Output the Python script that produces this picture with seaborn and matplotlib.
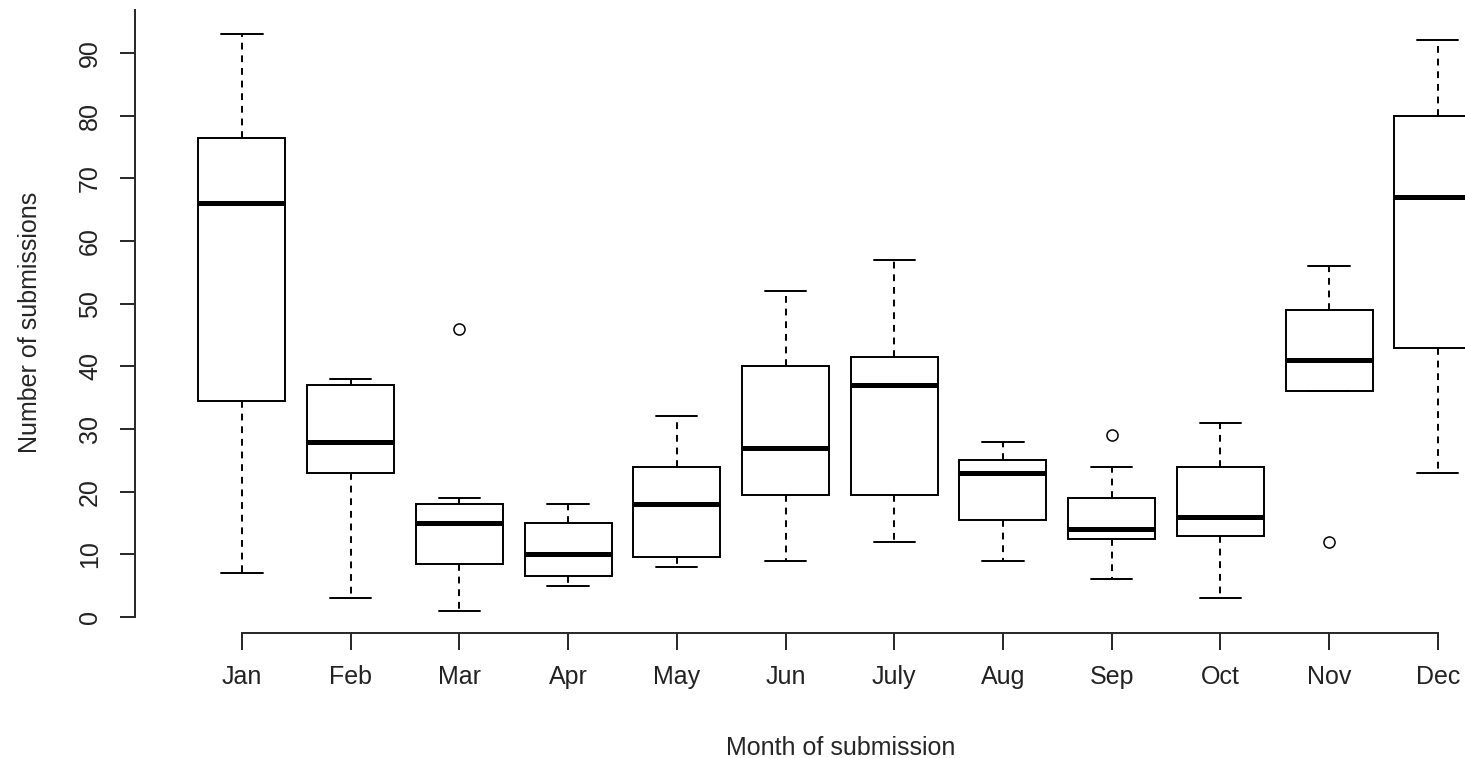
import pandas as pd
import seaborn as sns
import matplotlib.pyplot as plt

months = ["Jan", "Feb", "Mar", "Apr", "May", "Jun", "July", "Aug", "Sep", "Oct", "Nov", "Dec"]
jan = [7, 20, 34.5, 50, 66, 70, 76.5, 85, 93]
feb = [3, 15, 23, 25, 28, 33, 37, 37.5, 38]
mar = [1, 5, 8.5, 12, 15, 17, 18, 19, 46]
apr = [5, 6, 6.5, 8, 10, 12, 15, 17, 18]
may = [8, 9, 9.5, 14, 18, 21, 24, 28, 32]
jun = [9, 15, 19.5, 23, 27, 35, 40, 46, 52]
jul = [12, 16, 19.5, 30, 37, 40, 41.5, 50, 57]
aug = [9, 12, 15.5, 20, 23, 24, 25, 27, 28]
sep = [6, 10, 12.5, 13, 14, 17, 19, 24, 29]
octo = [3, 8, 13, 15, 16, 20, 24, 28, 31]
nov = [12, 36, 36, 38, 41, 45, 49, 52, 56]
dec = [23, 30, 43, 55, 67, 72, 80, 85, 92]
yticks = [0, 10, 20, 30, 40, 50, 60, 70, 80, 90]

counts = [jan, feb, mar, apr, may, jun, jul, aug, sep, octo, nov, dec]
df = pd.DataFrame({
    "month": [m for m, c in zip(months, counts) for _ in c],
    "n": [v for c in counts for v in c],
})

sns.set_style("ticks")
plt.rcParams["font.family"] = ["Liberation Sans", "DejaVu Sans"]
plt.rcParams["text.color"] = "#222222"

fig = plt.figure(figsize=(14.65, 7.58), dpi=100)
ax = fig.add_axes([135 / 1465, 125 / 758, 1330 / 1465, 633 / 758])

sns.boxplot(data=df, x="month", y="n", order=months, ax=ax,
            color="white", linecolor="black", linewidth=1.4, width=0.8,
            whis=1.5, capwidths=0.38,
            medianprops=dict(linewidth=3.6, color="black"),
            whiskerprops=dict(linestyle=(0, (3.5, 3))),
            flierprops=dict(marker="o", markersize=8, markerfacecolor="none",
                            markeredgecolor="black", markeredgewidth=1.1))

ax.set_xlim(-0.984, 11.25)
ax.set_ylim(-2.55, 98.45)
ax.set_yticks(yticks)
ax.set_yticklabels([str(t) for t in yticks])
plt.setp(ax.get_yticklabels(), rotation=90, va="center")

sns.despine(ax=ax)
ax.spines["left"].set_bounds(0, 96.8)
ax.spines["bottom"].set_bounds(0, 11)
for s in ["left", "bottom"]:
    ax.spines[s].set_linewidth(1.4)

ax.tick_params(axis="y", length=10.8, width=1.4, pad=13, labelsize=18,
               labelcolor="#222222")
ax.tick_params(axis="x", length=12.2, width=1.4, pad=11, labelsize=18,
               labelcolor="#222222")

ax.set_xlabel("Month of submission", fontsize=18, va="baseline")
ax.set_ylabel("Number of submissions", fontsize=18, va="baseline")
ax.xaxis.set_label_coords(0.5308, -0.1927)
ax.yaxis.set_label_coords(-0.0737, 0.4905)

fig.savefig("out.png", dpi=100)
